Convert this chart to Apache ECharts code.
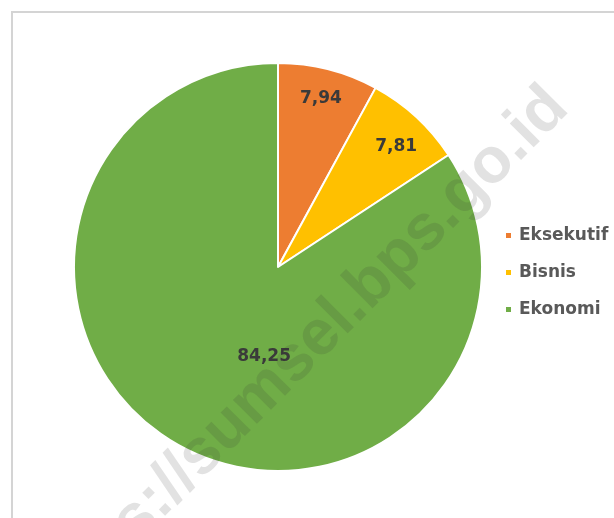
<!DOCTYPE html>
<html>
<head>
<meta charset="utf-8">
<script src="https://cdn.jsdelivr.net/npm/echarts@6/dist/echarts.min.js"></script>
<style>
html,body{margin:0;padding:0;background:#fff;}
#c{width:614px;height:518px;}
</style>
</head>
<body>
<div id="c"></div>
<script>
var categories = ["Eksekutif", "Bisnis", "Ekonomi"];
var values = [7.94, 7.81, 84.25];
var colors = ["#ED7D31", "#FFC000", "#70AD47"];
var labelOffsets = [[17, -67], [47, -43], [36, -3]];
var watermark = "https://sumsel.bps.go.id";

var chart = echarts.init(document.getElementById('c'), null, {renderer: 'canvas'});
var data = categories.map(function (name, i) {
  return {
    name: name,
    value: values[i],
    itemStyle: {color: colors[i]},
    label: {offset: labelOffsets[i]}
  };
});
chart.setOption({
  animation: false,
  backgroundColor: '#ffffff',
  legend: {
    orient: 'vertical',
    left: 499,
    top: 222,
    itemWidth: 7,
    itemHeight: 7,
    itemGap: 20,
    icon: 'rect',
    data: categories,
    textStyle: {
      fontFamily: 'DejaVu Sans',
      fontWeight: 'bold',
      fontSize: 17,
      color: '#595959',
      padding: [0, 0, 0, 2]
    }
  },
  graphic: [
    {
      type: 'rect',
      shape: {x: 12, y: 12, width: 640, height: 540},
      style: {fill: 'none', stroke: '#d4d4d4', lineWidth: 2},
      z: 0
    },
    {
      type: 'text',
      x: 298,
      y: 358,
      rotation: Math.PI / 4,
      z: 100,
      style: {
        text: watermark,
        fontFamily: 'Liberation Sans',
        fontWeight: 'bold',
        fontSize: 64,
        fill: 'rgba(50,50,50,0.14)',
        align: 'center',
        verticalAlign: 'middle'
      }
    }
  ],
  series: [{
    type: 'pie',
    center: [278, 267],
    radius: [0, 204],
    startAngle: 90,
    clockwise: true,
    data: data,
    itemStyle: {borderColor: '#ffffff', borderWidth: 2},
    label: {
      show: true,
      position: 'inside',
      formatter: function (p) { return p.value.toFixed(2).replace('.', ','); },
      fontFamily: 'DejaVu Sans',
      fontWeight: 'bold',
      fontSize: 17,
      color: '#3a3a3a'
    },
    labelLine: {show: false},
    emphasis: {disabled: true}
  }]
});
</script>
</body>
</html>
